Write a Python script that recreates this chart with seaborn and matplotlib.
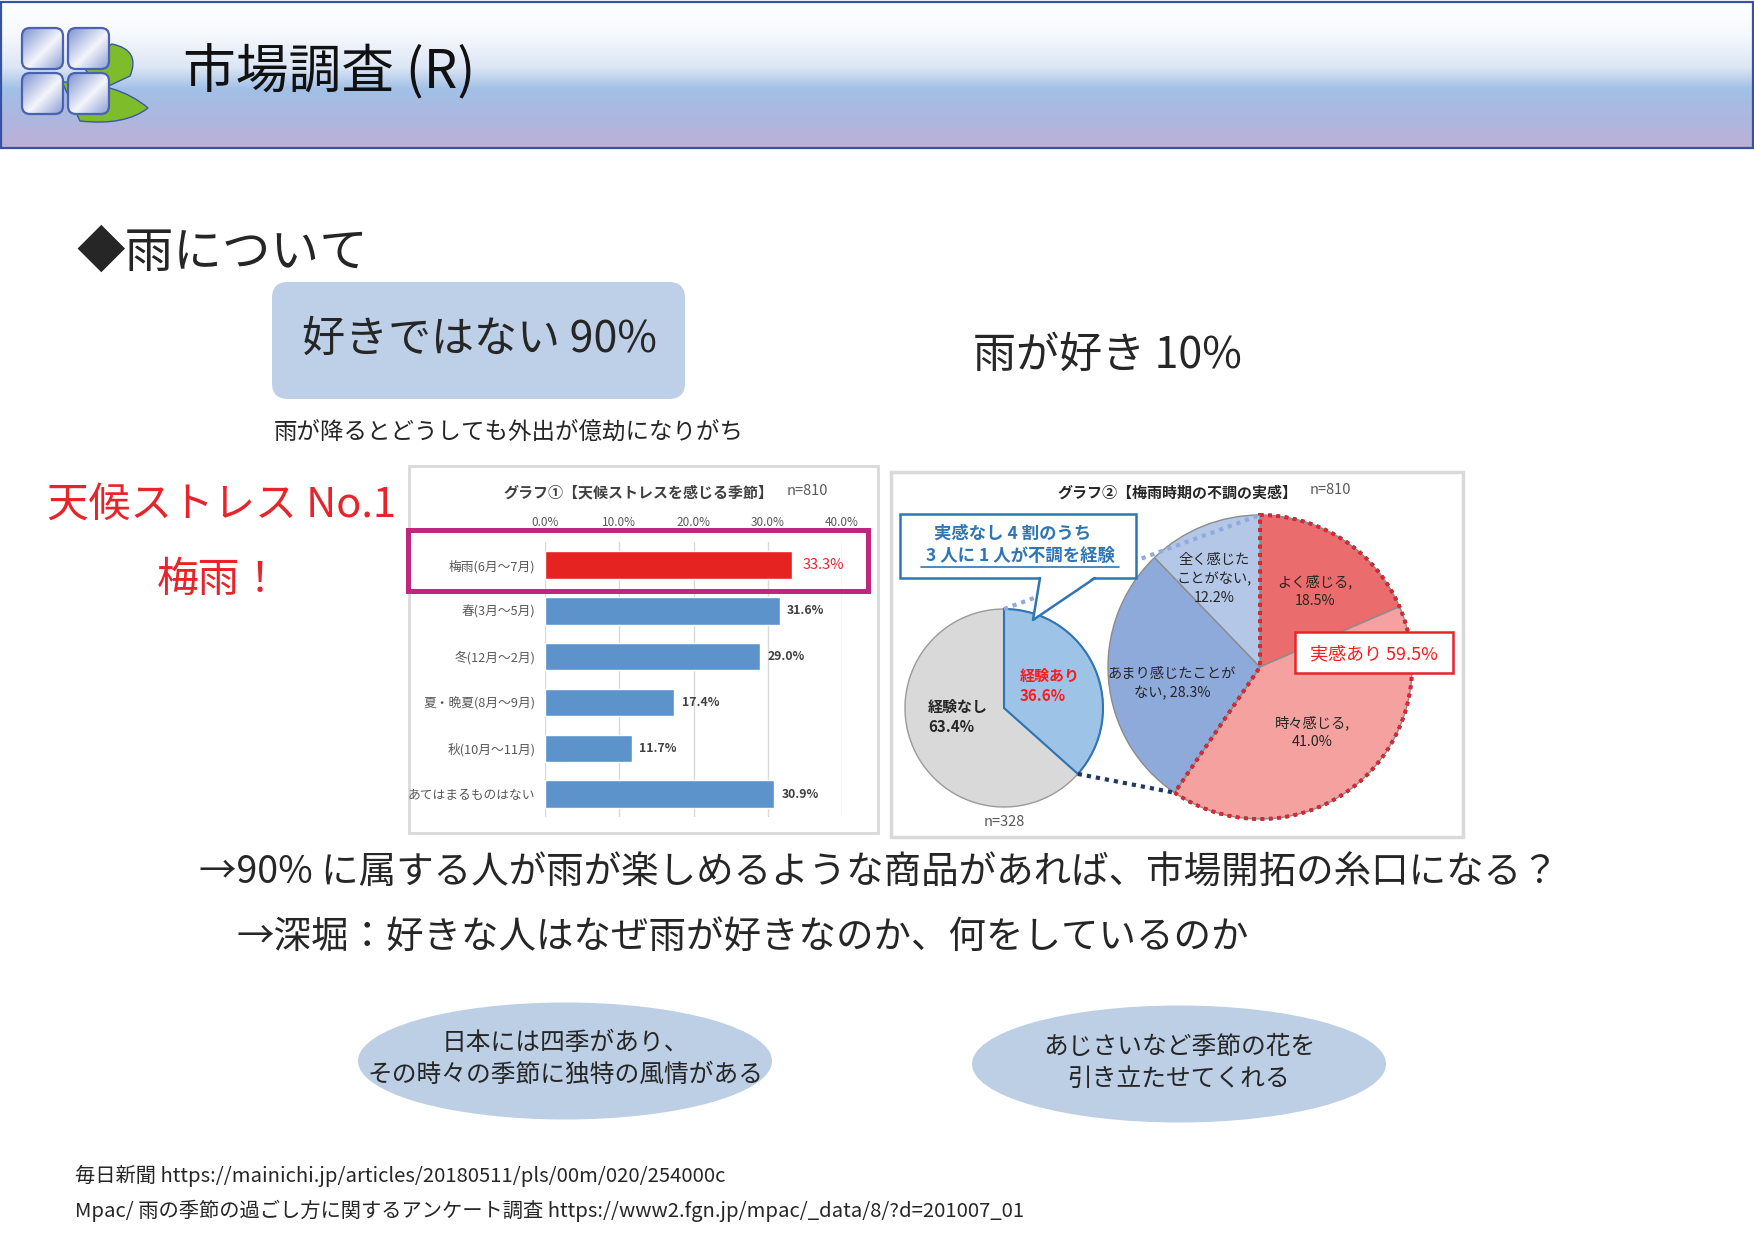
import numpy as np
import pandas as pd
import matplotlib
matplotlib.use("Agg")
import matplotlib.pyplot as plt
import seaborn as sns
from matplotlib.patches import FancyBboxPatch, Rectangle, Ellipse, Wedge, Polygon, PathPatch
from matplotlib.path import Path
from matplotlib.colors import LinearSegmentedColormap

W, H = 1754, 1241

# ---- data ----
seasons = ["梅雨(6月～7月)", "春(3月～5月)", "冬(12月～2月)",
           "夏・晩夏(8月～9月)", "秋(10月～11月)", "あてはまるものはない"]
stress_pct = [33.3, 31.6, 29.0, 17.4, 11.7, 30.9]
bar_ticks = [0, 10, 20, 30, 40]

feel_names = ["よく感じる,\n", "時々感じる,\n", "あまり感じたことが\nない, ", "全く感じた\nことがない,\n"]
feel_pct = [18.5, 41.0, 28.3, 12.2]
exp_names = ["経験あり\n", "経験なし\n"]
exp_pct = [36.6, 63.4]

sns.set_theme(style="white")
plt.rcParams["font.family"] = ["Noto Sans CJK JP", "DejaVu Sans"]

fig = plt.figure(figsize=(W / 100, H / 100), dpi=100)
bg = fig.add_axes([0, 0, 1, 1])
bg.axis("off")

# header gradient
stops = [(0, "#ffffff"), (0.22, "#f6f9fd"), (0.45, "#dce6f5"), (0.6, "#a2c0e6"),
         (0.8, "#adb7df"), (1, "#beb0d7")]
hdr_cmap = LinearSegmentedColormap.from_list("hdr", stops)
bg.imshow(np.linspace(0, 1, 256).reshape(-1, 1), cmap=hdr_cmap,
          extent=(1, W - 1, 147, 2), aspect="auto", zorder=0)
bg.add_patch(Rectangle((1, 1.5), W - 2.5, 146, fill=False, ec="#3552a3", lw=1.6, zorder=1))

# icon leaves
leaf_top = Path([(80, 62), (112, 44), (141, 50), (130, 76), (100, 90), (80, 62)],
                [Path.MOVETO, Path.LINETO, Path.CURVE3, Path.CURVE3, Path.LINETO, Path.CLOSEPOLY])
leaf_bot = Path([(62, 82), (118, 82), (148, 108), (125, 126), (80, 121), (62, 82)],
                [Path.MOVETO, Path.CURVE3, Path.CURVE3, Path.CURVE3, Path.CURVE3, Path.CLOSEPOLY])
for lp in (leaf_top, leaf_bot):
    bg.add_patch(PathPatch(lp, fc="#7fbc2c", ec="#3b57a6", lw=1, zorder=2))

# icon squares
sq_cmap = LinearSegmentedColormap.from_list("sq", [(0, "#7d94d1"), (0.55, "#f4f5fb"), (1, "#8a9fd6")])
n = 64
ii, jj = np.mgrid[0:n, 0:n]
sq_grad = (ii + jj) / (2 * (n - 1))
for sx, sy in [(22, 28), (68, 28), (22, 73), (68, 73)]:
    box = FancyBboxPatch((sx, sy), 41, 41, boxstyle="round,pad=0,rounding_size=8",
                         fc="none", ec="#4a62b0", lw=1.6, zorder=4)
    bg.add_patch(box)
    im = bg.imshow(sq_grad, cmap=sq_cmap, extent=(sx, sx + 41, sy + 41, sy), aspect="auto", zorder=3)
    im.set_clip_path(box)

bg.set_xlim(0, W)
bg.set_ylim(H, 0)

bg.text(183, 73, "市場調査 (R)", fontsize=38, va="center", ha="left", color="#111111")

# body text
bg.text(76, 253, "◆雨について", fontsize=35, va="center", ha="left")
bg.add_patch(FancyBboxPatch((272, 282), 413, 117, boxstyle="round,pad=0,rounding_size=16",
                            fc="#bdd0e8", ec="none"))
bg.text(479, 340, "好きではない 90%", fontsize=31, va="center", ha="center")
bg.text(973, 356, "雨が好き 10%", fontsize=31, va="center", ha="left")
bg.text(274, 432, "雨が降るとどうしても外出が億劫になりがち", fontsize=16.9, va="center", ha="left")
bg.text(47, 505, "天候ストレス No.1", fontsize=30, va="center", ha="left", color="#e8232a")
bg.text(219, 580, "梅雨！", fontsize=30, va="center", ha="center", color="#e8232a")

bg.text(199, 873, "→90% に属する人が雨が楽しめるような商品があれば、市場開拓の糸口になる？",
        fontsize=27, va="center", ha="left")
bg.text(237, 937, "→深堀：好きな人はなぜ雨が好きなのか、何をしているのか",
        fontsize=27, va="center", ha="left")

bg.add_patch(Ellipse((565, 1061), 414, 117, fc="#bccfe5", ec="none"))
bg.text(565, 1059, "日本には四季があり、\nその時々の季節に独特の風情がある", fontsize=17.8,
        ha="center", va="center", multialignment="center", linespacing=1.3)
bg.add_patch(Ellipse((1179, 1064), 414, 117, fc="#bccfe5", ec="none"))
bg.text(1179, 1063, "あじさいなど季節の花を\n引き立たせてくれる", fontsize=17.8,
        ha="center", va="center", multialignment="center", linespacing=1.3)

bg.text(75, 1176, "毎日新聞 https://mainichi.jp/articles/20180511/pls/00m/020/254000c",
        fontsize=14.6, va="center", ha="left")
bg.text(75, 1211, "Mpac/ 雨の季節の過ごし方に関するアンケート調査 https://www2.fgn.jp/mpac/_data/8/?d=201007_01",
        fontsize=14.6, va="center", ha="left")

# panels
bg.add_patch(Rectangle((409, 466), 469, 367, fc="white", ec="#d9d9d9", lw=2))
bg.add_patch(Rectangle((891, 472), 572, 365, fc="white", ec="#d9d9d9", lw=2.5))
bg.text(503, 492, "グラフ①【天候ストレスを感じる季節】", fontsize=10.8, fontweight="bold",
        color="#404040", va="center", ha="left")
bg.text(787, 491, "n=810", fontsize=10.5, color="#595959", va="center", ha="left")
bg.text(1057, 493, "グラフ②【梅雨時期の不調の実感】", fontsize=10.8, fontweight="bold",
        color="#262626", va="center", ha="left")
bg.text(1310, 490, "n=810", fontsize=10.5, color="#595959", va="center", ha="left")

# ---- bar chart ----
axb = fig.add_axes([545 / W, 1 - 817 / H, 297 / W, 275 / H])
bar_df = pd.DataFrame({"season": seasons, "pct": stress_pct})
pal = {s: ("#e52421" if i == 0 else "#5b93ca") for i, s in enumerate(seasons)}
sns.barplot(data=bar_df, x="pct", y="season", hue="season", palette=pal, legend=False,
            width=0.6, orient="h", saturation=1, ax=axb)
axb.set_xlim(0, 40)
axb.set_ylim(5.5, -0.5)
axb.set_xticks(bar_ticks)
axb.set_xticklabels([f"{t:.1f}%" for t in bar_ticks])
axb.xaxis.tick_top()
axb.tick_params(axis="x", length=0, pad=9, labelsize=8.5, labelcolor="#595959")
axb.tick_params(axis="y", length=0, pad=7, labelsize=9.2, labelcolor="#595959")
axb.grid(axis="x", color="#d9d9d9", lw=1)
axb.set_axisbelow(True)
for sp in axb.spines.values():
    sp.set_visible(False)
axb.set_xlabel("")
axb.set_ylabel("")
axb.patch.set_alpha(0)
for i, v in enumerate(stress_pct):
    if i == 0:
        axb.text(v + 1.4, i, f"{v:.1f}%", color="#e8232a", fontsize=10.5, va="center")
    else:
        axb.text(v + 1.0, i, f"{v:.1f}%", color="#404040", fontsize=8.8,
                 fontweight="bold", va="center")

# ---- pie charts ----
px0, py0, px1, py1 = 891, 472, 1463, 837
axp = fig.add_axes([px0 / W, 1 - py1 / H, (px1 - px0) / W, (py1 - py0) / H])
bcx, bcy, br = 1260, 667, 152
scx, scy, sr = 1004, 708, 99

axp.pie(feel_pct, colors=["#ea6c6c", "#f4a1a0", "#8eaadb", "#b4c7e7"], startangle=90,
        counterclock=False, center=(bcx, H - bcy), radius=br,
        wedgeprops=dict(edgecolor="#8c8c8c", linewidth=1))
axp.pie(exp_pct, colors=["#9dc3e6", "#d9d9d9"], startangle=90, counterclock=False,
        center=(scx, H - scy), radius=sr, wedgeprops=dict(edgecolor="#9a9a9a", linewidth=1))

a_exp = 90 - 3.6 * exp_pct[0]
axp.add_patch(Wedge((scx, H - scy), sr, a_exp, 90, fill=False, ec="#2e75b6", lw=1.5))
a_feel = 90 - 3.6 * (feel_pct[0] + feel_pct[1])
axp.add_patch(Wedge((bcx, H - bcy), br, a_feel + 360, 90 + 360, fill=False,
                    ec="#1f3864", lw=2.6, ls=(0, (1, 1.3))))
axp.add_patch(Wedge((bcx, H - bcy), br, a_feel, 90, fill=False,
                    ec="#e8232a", lw=2.6, ls=(0, (1, 1.3))))
axp.set_xlim(px0, px1)
axp.set_ylim(H - py1, H - py0)
axp.set_aspect("auto")
axp.axis("off")

# ---- overlay (pixel coords) ----
ov = fig.add_axes([0, 0, 1, 1], zorder=5)
ov.set_xlim(0, W)
ov.set_ylim(H, 0)
ov.axis("off")
ov.patch.set_alpha(0)

ov.add_patch(Rectangle((408, 530), 460, 61, fill=False, ec="#c0267e", lw=3.6))

# connecting dotted lines
ov.plot([scx, bcx], [scy - sr, bcy - br], color="#8faadc", lw=3, ls=(0, (1, 1.2)), zorder=1)
sp_x = scx + sr * np.cos(np.radians(a_exp))
sp_y = scy - sr * np.sin(np.radians(a_exp))
bp_x = bcx + br * np.cos(np.radians(a_feel))
bp_y = bcy - br * np.sin(np.radians(a_feel))
ov.plot([sp_x, bp_x], [sp_y, bp_y], color="#1f3864", lw=3, ls=(0, (1, 1.2)), zorder=1)

# pie labels
big_pos = [(1315, 591), (1312, 732), (1172, 684), (1214, 579)]
for (lx, ly), nm, v in zip(big_pos, feel_names, feel_pct):
    ov.text(lx, ly, f"{nm}{v:.1f}%", fontsize=10.3, ha="center", va="center",
            multialignment="center", linespacing=1.45, color="#262626", zorder=3)
ov.text(1050, 686, f"{exp_names[0]}{exp_pct[0]:.1f}%", fontsize=10.8, fontweight="bold",
        color="#ff1a1a", ha="center", va="center", multialignment="left", linespacing=1.35, zorder=3)
ov.text(958, 717, f"{exp_names[1]}{exp_pct[1]:.1f}%", fontsize=10.8, fontweight="bold",
        color="#262626", ha="center", va="center", multialignment="left", linespacing=1.35, zorder=3)
ov.text(1004, 822, "n=328", fontsize=10.5, color="#595959", ha="center", va="center")

# callout
ov.add_patch(Rectangle((900, 514), 236, 64, fc="white", ec="#2e75b6", lw=1.8, zorder=4))
ov.add_patch(Polygon([(1040, 576), (1033, 620), (1095, 576)], closed=True, fc="white", ec="none", zorder=5))
ov.plot([1040, 1033, 1095], [578, 620, 578], color="#2e75b6", lw=1.8, zorder=5)
ov.text(1013, 534, "実感なし 4 割のうち", fontsize=12.5, fontweight="bold", color="#2e75b6",
        ha="center", va="center", zorder=6)
ov.text(1020, 556, "3 人に 1 人が不調を経験", fontsize=12.5, fontweight="bold", color="#2e75b6",
        ha="center", va="center", zorder=6)
ov.plot([921, 1119], [567, 567], color="#2e75b6", lw=1.2, zorder=6)

ov.add_patch(Rectangle((1295, 632), 158, 41, fc="white", ec="#e8232a", lw=1.8, zorder=4))
ov.text(1374, 654, "実感あり 59.5%", fontsize=13, color="#ff1a1a", ha="center", va="center", zorder=6)

fig.savefig("out.png", dpi=100)
